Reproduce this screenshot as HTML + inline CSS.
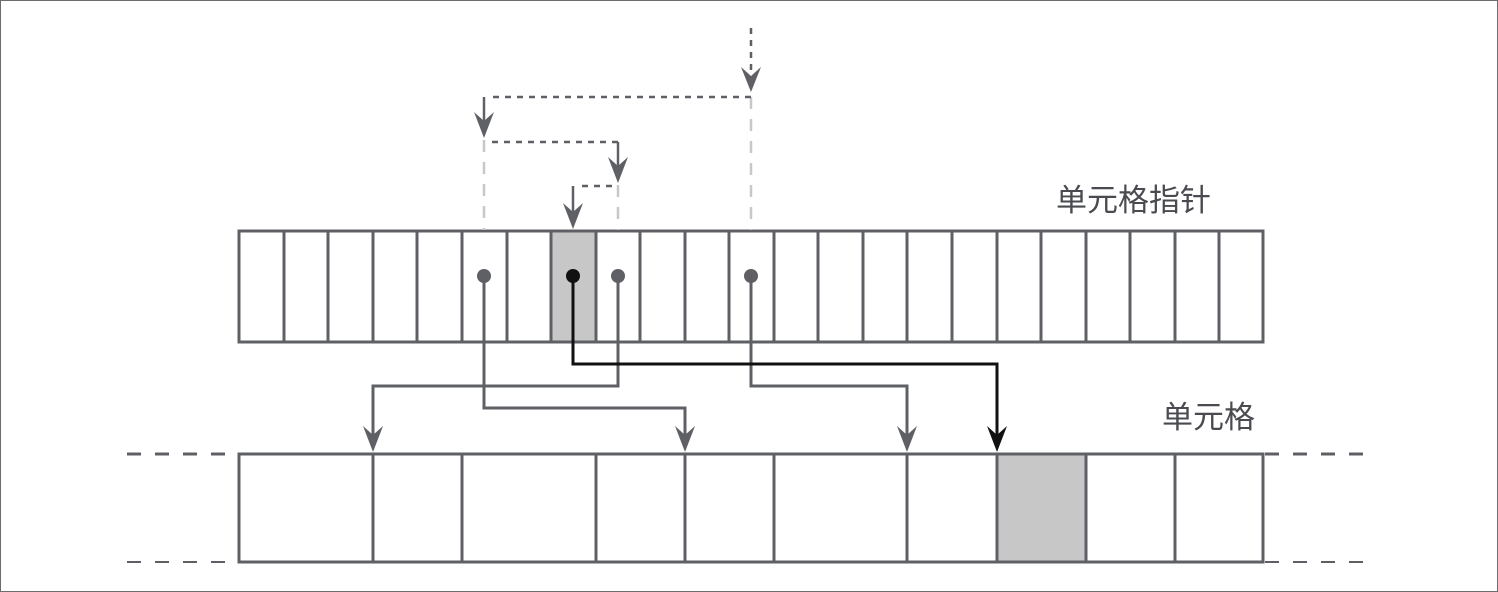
<!DOCTYPE html>
<html><head><meta charset="utf-8"><style>
html,body{margin:0;padding:0;background:#fff}
svg{display:block}
text{font-family:"Liberation Sans","Noto Sans CJK SC",sans-serif;fill:#4a4b50}
</style></head><body>
<svg width="1498" height="592" viewBox="0 0 1498 592" xmlns="http://www.w3.org/2000/svg">
<rect x="0.5" y="0.5" width="1497" height="591" fill="#fff" stroke="#6b6c70" stroke-width="1"/>
<rect x="551" y="231" width="45" height="111" fill="#c6c7c6"/>
<rect x="239" y="231" width="1024" height="111" fill="none" stroke="#5f6066" stroke-width="3"/>
<g stroke="#5f6066" stroke-width="3">
<line x1="284" y1="231" x2="284" y2="342"/><line x1="328" y1="231" x2="328" y2="342"/><line x1="373" y1="231" x2="373" y2="342"/><line x1="417" y1="231" x2="417" y2="342"/><line x1="462" y1="231" x2="462" y2="342"/><line x1="507" y1="231" x2="507" y2="342"/><line x1="551" y1="231" x2="551" y2="342"/><line x1="596" y1="231" x2="596" y2="342"/><line x1="640" y1="231" x2="640" y2="342"/><line x1="685" y1="231" x2="685" y2="342"/><line x1="729" y1="231" x2="729" y2="342"/><line x1="774" y1="231" x2="774" y2="342"/><line x1="818" y1="231" x2="818" y2="342"/><line x1="863" y1="231" x2="863" y2="342"/><line x1="907" y1="231" x2="907" y2="342"/><line x1="952" y1="231" x2="952" y2="342"/><line x1="997" y1="231" x2="997" y2="342"/><line x1="1041" y1="231" x2="1041" y2="342"/><line x1="1086" y1="231" x2="1086" y2="342"/><line x1="1130" y1="231" x2="1130" y2="342"/><line x1="1175" y1="231" x2="1175" y2="342"/><line x1="1219" y1="231" x2="1219" y2="342"/>
</g>
<rect x="997" y="454" width="89" height="108" fill="#c6c7c6"/>
<rect x="239" y="454" width="1024" height="108" fill="none" stroke="#5f6066" stroke-width="3"/>
<g stroke="#5f6066" stroke-width="3">
<line x1="373" y1="454" x2="373" y2="562"/><line x1="462" y1="454" x2="462" y2="562"/><line x1="596" y1="454" x2="596" y2="562"/><line x1="685" y1="454" x2="685" y2="562"/><line x1="774" y1="454" x2="774" y2="562"/><line x1="907" y1="454" x2="907" y2="562"/><line x1="997" y1="454" x2="997" y2="562"/><line x1="1086" y1="454" x2="1086" y2="562"/><line x1="1175" y1="454" x2="1175" y2="562"/>
</g>
<g stroke="#5f6066" stroke-width="3" stroke-dasharray="14,14">
<line x1="127" y1="454" x2="237" y2="454"/><line x1="1265" y1="454" x2="1375" y2="454"/>
</g>
<g stroke="#5f6066" stroke-width="2" stroke-dasharray="14,14">
<line x1="127" y1="562" x2="237" y2="562"/><line x1="1265" y1="562" x2="1375" y2="562"/>
</g>
<g stroke="#c8c8c8" stroke-width="2.5" stroke-dasharray="12,10">
<line x1="484" y1="140" x2="484" y2="230"/><line x1="618" y1="185" x2="618" y2="230"/><line x1="751" y1="97" x2="751" y2="230"/>
</g>
<g stroke="#5f6066" stroke-width="2.5" stroke-dasharray="6,6" fill="none">
<line x1="751" y1="28" x2="751" y2="75"/>
<line x1="751" y1="97" x2="490" y2="97"/>
<line x1="618" y1="142" x2="490" y2="142"/>
<line x1="612" y1="186" x2="578" y2="186"/>
</g>
<g stroke="#5f6066" stroke-width="2.5" fill="none">
<line x1="484" y1="97" x2="484" y2="125"/>
<line x1="618" y1="142" x2="618" y2="170"/>
<line x1="573" y1="186" x2="573" y2="215"/>
</g>
<g fill="#5f6066">
<path d="M741 67 L751 92 L761 67 L751 76 Z"/>
<path d="M474 112 L484 138 L494 112 L484 121 Z"/>
<path d="M608 157 L618 183 L628 157 L618 166 Z"/>
<path d="M563 203 L573 229 L583 203 L573 212 Z"/>
</g>
<g stroke="#5f6066" stroke-width="3" fill="none">
<polyline points="484,276 484,408 685,408 685,438"/>
<polyline points="618,276 618,386 373,386 373,438"/>
<polyline points="751,276 751,386 907,386 907,438"/>
</g>
<polyline points="573,276 573,364 997,364 997,438" stroke="#111" stroke-width="3" fill="none"/>
<g fill="#5f6066">
<path d="M363 426 L373 452 L383 426 L373 435 Z"/>
<path d="M675 426 L685 452 L695 426 L685 435 Z"/>
<path d="M897 426 L907 452 L917 426 L907 435 Z"/>
<circle cx="484" cy="276" r="7"/><circle cx="618" cy="276" r="7"/><circle cx="751" cy="276" r="7"/>
</g>
<path d="M987 426 L997 452 L1007 426 L997 435 Z" fill="#111"/>
<circle cx="573" cy="276" r="7" fill="#111"/>
<text x="1056" y="211" font-size="31">单元格指针</text>
<text x="1162" y="428" font-size="31">单元格</text>
</svg>
</body></html>
